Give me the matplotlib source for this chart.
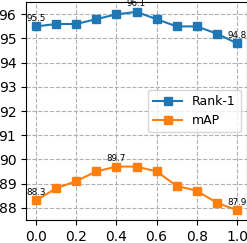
import numpy as np
import matplotlib
matplotlib.use('Agg')
from matplotlib import pyplot as plt

x = [0.0, 0.1, 0.2, 0.3, 0.4, 0.5, 0.6, 0.7, 0.8, 0.9, 1.0]
rank1 = [95.5, 95.6, 95.6, 95.8, 96.0, 96.1, 95.8, 95.5, 95.5, 95.2, 94.8]
mAP = [88.3, 88.8, 89.1, 89.5, 89.7, 89.7, 89.5, 88.9, 88.7, 88.2, 87.9]

fig = plt.figure(figsize=(2.47, 2.43), dpi=100)
ax = fig.add_axes([26/247, 23/243, 221/247, 218/243])

ax.plot(x, rank1, marker='s', markersize=6, linewidth=1.5, color='tab:blue', label='Rank-1')
ax.plot(x, mAP, marker='s', markersize=6, linewidth=1.5, color='tab:orange', label='mAP')

# label first, best and last point of each curve
for ys in [rank1, mAP]:
    for i in [0, int(np.argmax(ys)), len(ys) - 1]:
        ax.annotate('%.1f' % ys[i], (x[i], ys[i]), xytext=(0, 2.5), textcoords='offset points',
                    ha='center', va='bottom', fontsize=6.3)

ax.set_xticks([0.0, 0.2, 0.4, 0.6, 0.8, 1.0])
ax.set_yticks([88, 89, 90, 91, 92, 93, 94, 95, 96])
ax.tick_params(labelsize=10)
ax.grid(True, linestyle='--', color='#b0b0b0', linewidth=0.8)
ax.legend(loc='center right', fontsize=9, handlelength=2.3)

fig.savefig('out.png', dpi=100)
